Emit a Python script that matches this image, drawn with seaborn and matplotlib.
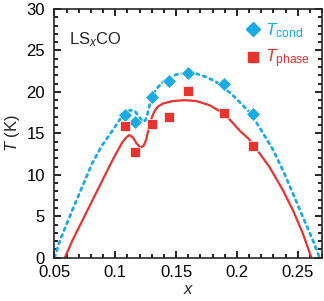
import numpy as np
import pandas as pd
import seaborn as sns
import matplotlib.pyplot as plt
from matplotlib.ticker import MultipleLocator
from matplotlib.lines import Line2D

# Data
x_pts = [0.108, 0.116, 0.130, 0.1445, 0.160, 0.189, 0.2135]
t_cond = [17.2, 16.4, 19.4, 21.3, 22.3, 21.0, 17.3]
t_phase = [15.9, 12.8, 16.1, 17.0, 20.1, 17.4, 13.5]

# guide curves
cond_x = [0.050, 0.0546, 0.0601, 0.0669, 0.0738, 0.0807, 0.0889, 0.0971, 0.1034, 0.108,
          0.1125, 0.116, 0.1195, 0.1228, 0.125, 0.1266, 0.128, 0.1297, 0.133, 0.1365,
          0.1406, 0.1502, 0.1589, 0.1666, 0.1748, 0.183, 0.1952, 0.2034, 0.2102, 0.2157,
          0.2216, 0.2298, 0.238, 0.2462, 0.2543, 0.2625, 0.268]
cond_t = [0.0, 2.1, 4.1, 6.5, 8.9, 11.3, 13.5, 15.2, 16.6, 17.4,
          17.8, 17.7, 17.0, 16.4, 16.6, 17.4, 18.3, 19.1, 20.2, 20.8,
          21.4, 22.1, 22.3, 22.2, 21.8, 21.2, 19.8, 18.6, 17.6, 16.4,
          15.0, 13.0, 10.5, 7.7, 4.9, 2.1, 0.0]
phase_x = [0.0585, 0.0648, 0.073, 0.0811, 0.0893, 0.0975, 0.1015, 0.1057, 0.109, 0.1116,
           0.1145, 0.1175, 0.1205, 0.1234, 0.1255, 0.1275, 0.1295, 0.132, 0.1348, 0.1392,
           0.1474, 0.157, 0.1666, 0.1775, 0.1879, 0.1939, 0.2025, 0.21, 0.2161, 0.227,
           0.238, 0.2462, 0.2543, 0.2613]
phase_t = [0.0, 2.1, 4.5, 6.9, 9.3, 11.7, 12.8, 13.9, 14.5, 14.8,
           14.5, 13.8, 13.3, 13.5, 14.3, 15.6, 16.7, 17.6, 18.2, 18.6,
           18.9, 19.0, 18.9, 18.4, 17.5, 16.7, 15.3, 14.3, 13.1, 10.9,
           8.1, 5.7, 2.9, 0.0]

cyan = '#1AAAE4'
red = '#E8332F'

sns.set_style('ticks')
plt.rcParams['font.family'] = ['Liberation Sans', 'DejaVu Sans']
plt.rcParams['mathtext.fontset'] = 'custom'
plt.rcParams['mathtext.rm'] = 'Liberation Sans'
plt.rcParams['mathtext.it'] = 'Liberation Sans:italic'
plt.rcParams['font.size'] = 12

fig = plt.figure(figsize=(3.24, 3.01), dpi=100)
ax = fig.add_axes([0.1682, 0.1439, 0.8256, 0.8261])

cond_df = pd.DataFrame({'x': cond_x, 'T': cond_t})
phase_df = pd.DataFrame({'x': phase_x, 'T': phase_t})
sns.lineplot(data=cond_df, x='x', y='T', sort=False, estimator=None, ax=ax,
             color=cyan, lw=2.0, linestyle=(0, (1, 1.6)), dash_capstyle='round')
sns.lineplot(data=phase_df, x='x', y='T', sort=False, estimator=None, ax=ax,
             color=red, lw=1.6)

pts = pd.DataFrame({'x': x_pts, 'cond': t_cond, 'phase': t_phase})
ax.plot(pts['x'], pts['cond'], 'D', color=cyan, ms=7.2, mec='white', mew=0.5, ls='none')
ax.plot(pts['x'], pts['phase'], 's', color=red, ms=6.5, mec='white', mew=0.5, ls='none')

ax.set_xlim(0.05, 0.27)
ax.set_ylim(0, 30)
ax.xaxis.set_major_locator(MultipleLocator(0.05))
ax.xaxis.set_minor_locator(MultipleLocator(0.01))
ax.yaxis.set_major_locator(MultipleLocator(5))
ax.yaxis.set_minor_locator(MultipleLocator(1))
ax.xaxis.set_major_formatter(plt.FuncFormatter(lambda v, p: f'{v:g}'))
ax.tick_params(which='both', direction='in', top=True, right=True, labelsize=12, width=1.2, colors='black')
ax.tick_params(which='major', length=5)
ax.tick_params(which='minor', length=3)
ax.tick_params(axis='x', pad=5.5)
ax.tick_params(axis='y', pad=7)
for s in ax.spines.values():
    s.set_linewidth(1.2)
ax.set_xlabel('$x$', fontsize=12, labelpad=1)
ax.set_ylabel('$T$ (K)', fontsize=12, labelpad=3)

ax.text(0.055, 0.86, r'LS$_{x}$CO', transform=ax.transAxes, fontsize=12)

handles = [Line2D([], [], marker='D', color=cyan, ls='none', ms=7.2),
           Line2D([], [], marker='s', color=red, ls='none', ms=6.5)]
leg = ax.legend(handles, [r'$T_{\rm cond}$', r'$T_{\rm phase}$'], loc='upper right',
                frameon=False, fontsize=12.5, handletextpad=0.1, handlelength=1.2,
                labelspacing=0.45, borderaxespad=0.3, labelcolor=[cyan, red])

fig.savefig('out.png', dpi=100)
